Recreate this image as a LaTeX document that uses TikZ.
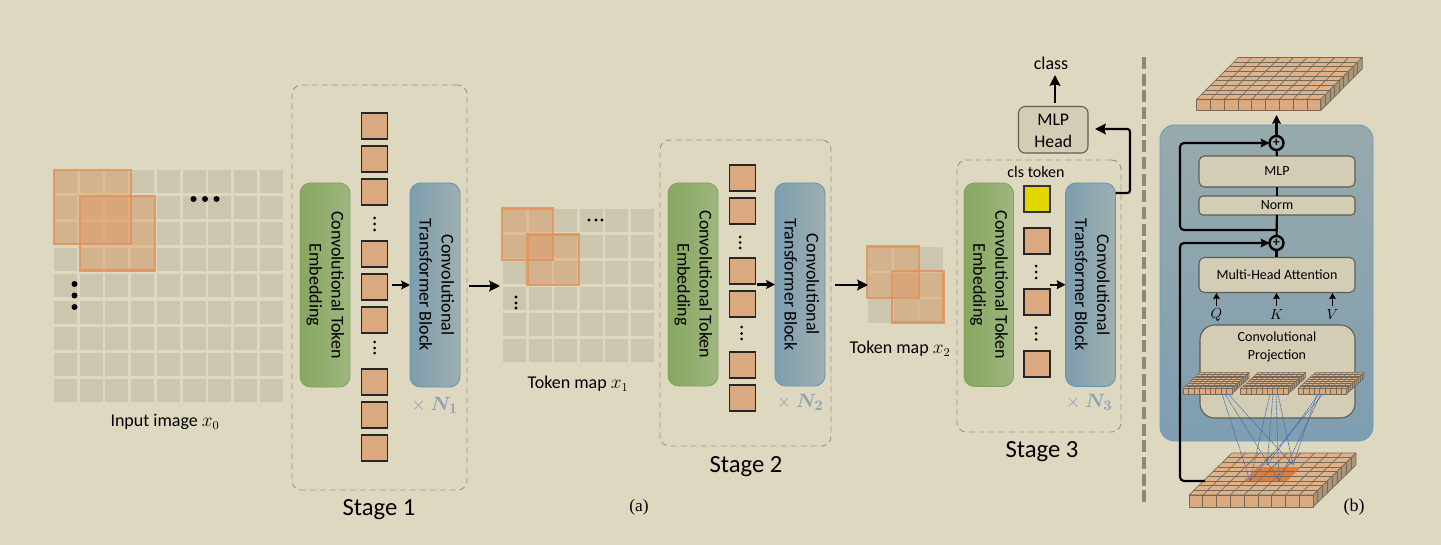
\documentclass[tikz,border=0pt]{standalone}
\usepackage{fontspec}
\setmainfont{Carlito}
\newfontfamily\capfont{Liberation Serif}
\usetikzlibrary{arrows.meta}
\definecolor{bgc}{HTML}{DFD8C0}
\definecolor{cellc}{HTML}{CCC6AE}
\definecolor{tokc}{HTML}{DBA980}
\definecolor{patchc}{HTML}{E0935A}
\definecolor{boxc}{HTML}{D4CDB6}
\definecolor{edgec}{HTML}{5E5C52}
\definecolor{dashc}{HTML}{9A978A}
\definecolor{repc}{HTML}{8AA2B6}
\definecolor{linkc}{HTML}{3F6CB0}
\definecolor{greenedge}{HTML}{7FA55C}
\definecolor{greenl}{HTML}{87A75F}
\definecolor{greenr}{HTML}{9EB680}
\definecolor{blueedge}{HTML}{6496B4}
\definecolor{bluel}{HTML}{7D9DAF}
\definecolor{bluer}{HTML}{9EB0B0}
\definecolor{yellowc}{HTML}{E1D700}
\definecolor{cubeedge}{HTML}{75695A}
\definecolor{cubetop}{HTML}{DEB28A}
\definecolor{cubeside}{HTML}{A8967A}
\definecolor{hotc}{HTML}{DE7D3C}
\definecolor{dividerc}{HTML}{8C8A7D}
\definecolor{paneledge}{HTML}{6E9BB9}
\definecolor{panelt}{HTML}{98AAAC}
\definecolor{panelb}{HTML}{7E9EB1}
\tikzset{
  x=0.75pt,y=-0.75pt,
  every node/.style={inner sep=0pt,outer sep=0pt},
  stagebox/.style={draw=dashc,dash pattern=on 4.5pt off 3pt,line width=0.7pt,rounded corners=7pt},
  greenblock/.style={draw=greenedge,rounded corners=8pt,line width=0.7pt,left color=greenl,right color=greenr},
  blueblock/.style={draw=blueedge,rounded corners=8pt,line width=0.7pt,left color=bluel,right color=bluer},
  token/.style={draw=black!85,line width=0.9pt,fill=tokc},
  clstoken/.style={draw=black!80,line width=0.9pt,fill=yellowc},
  lightbox/.style={draw=edgec,line width=0.8pt,fill=boxc,rounded corners=#1},
  lightbox/.default=4pt,
  patch/.style={draw=patchc,draw opacity=0.85,line width=1.6pt,fill=patchc,fill opacity=0.38},
  flow/.style={line width=1.6pt,-{Stealth[length=8pt,width=8pt,inset=1pt]}},
  smallflow/.style={line width=1.6pt,-{Stealth[length=6.5pt,width=6.5pt,inset=0.8pt]}},
  link/.style={draw=linkc,line width=0.5pt,dash pattern=on 1.2pt off 0.6pt},
  plain/.style={line width=1.6pt},
  sumnode/.style={circle,draw=black,line width=1.8pt,minimum size=10.5pt,font=\fontsize{10}{10}\selectfont\bfseries},
  rep/.style={text=repc,font=\fontsize{15}{15}\selectfont},
  stagelabel/.style={font=\fontsize{18.5}{18.5}\selectfont},
  maplabel/.style={font=\fontsize{13.5}{15}\selectfont},
  innerlabel/.style={font=\fontsize{10.5}{12.5}\selectfont},
}
% rectangular node given by its corners
\newcommand{\blk}[7]{%
  \pgfmathsetmacro\bw{(#5-#3)*0.75}\pgfmathsetmacro\bh{(#6-#4)*0.75}%
  \node[#1,minimum width=\bw pt,minimum height=\bh pt] (#2) at ({(#3+#5)/2},{(#4+#6)/2}) {#7};}
% turned two-line block caption
\newcommand{\turned}[2]{\rotatebox{-90}{\fontsize{13.5}{16.5}\selectfont\begin{tabular}{@{}c@{}}#1\\#2\end{tabular}}}
% square token whose top edge is at the given y
\newcommand{\tok}[4][token]{\blk{#1}{#2}{#3}{#4}{#3+26}{#4+26}{}}
% three dots, stacked or in a row, of a given radius
\newcommand{\tridots}[7][1.7]{\foreach \p in {(#2,#3),(#4,#5),(#6,#7)}{\fill[black] \p circle[radius=#1];}}
% flat grid of pale cells: left, top, columns, rows, x pitch, y pitch, cell size
\newcommand{\cellgrid}[7]{%
  \foreach \i in {1,...,#3}{\foreach \j in {1,...,#4}{%
    \fill[cellc] ({#1+(\i-1)*#5},{#2+(\j-1)*#6}) rectangle ++(#7,#7);}}}
% block of small cubes seen from above: front-left, front-right, top y, bottom y, skew, back y, stroke
\newcommand{\cubes}[7]{%
  \pgfmathsetmacro\cw{(#2-#1)/9}\pgfmathsetmacro\depth{(#3-#6)/9}\pgfmathsetmacro\skew{#5/9}\pgfmathsetmacro\thick{#4-#3}%
  \begin{scope}[draw=cubeedge,line width=#7,line join=round]
    \filldraw[fill=cubetop] (#1,#3) -- (#2,#3) -- ({#2+#5},#6) -- ({#1+#5},#6) -- cycle;
    \filldraw[fill=cubeside] (#2,#3) -- ({#2+#5},#6) -- ({#2+#5},{#6+\thick}) -- (#2,#4) -- cycle;
    \filldraw[fill=tokc] (#1,#3) rectangle (#2,#4);
    \foreach \k in {1,...,8}{
      \draw ({#1+\k*\cw},#3) -- ({#1+\k*\cw+#5},#6);
      \draw ({#1+\k*\cw},#3) -- ({#1+\k*\cw},#4);
      \draw ({#1+\k*\skew},{#3-\k*\depth}) -- ({#2+\k*\skew},{#3-\k*\depth});
      \draw ({#2+\k*\skew},{#3-\k*\depth}) -- ({#2+\k*\skew},{#4-\k*\depth});
    }
  \end{scope}}
\begin{document}
\begin{tikzpicture}
\useasboundingbox (0,0) rectangle (1441,545);
\fill[bgc] (0,0) rectangle (1441,545);

% ---- input image and token maps ----
\cellgrid{54}{170}{9}{9}{25.7}{26.1}{23}
\filldraw[patch] (54,170) rectangle (131,244);
\filldraw[patch] (80,196) rectangle (155,270.5);
\tridots[3]{193.5}{199}{205}{199}{216.5}{199}
\tridots[3]{74.5}{284}{74.5}{295.5}{74.5}{307}
\node[maplabel] (inlabel) at (165,421.5) {Input image $x_0$};

\cellgrid{503}{209}{6}{6}{25.6}{26}{23}
\filldraw[patch] (502,208.5) rectangle (553,260);
\filldraw[patch] (527.5,234.5) rectangle (579,285);
\tridots{589}{220}{596}{220}{602}{220}
\tridots{516}{297}{516}{303}{516}{308}
\node[maplabel] (mapone) at (578,383.5) {Token map $x_1$};

\cellgrid{868}{247}{3}{3}{25.6}{26}{24}
\filldraw[patch] (867,246.5) rectangle (919,298);
\filldraw[patch] (892,271) rectangle (943.5,322.5);
\node[maplabel] (maptwo) at (900,348.5) {Token map $x_2$};

% ---- stage 1 ----
\blk{stagebox}{stone}{292}{85}{467}{490}{}
\blk{greenblock}{cteone}{300}{183}{350}{387}{\turned{Convolutional Token}{Embedding}}
\blk{blueblock}{ctbone}{410}{183}{460}{387}{\turned{Convolutional}{Transformer Block}}
\foreach \n/\y in {a/113,b/146,c/179,d/241,e/274,f/307,g/369,h/402,i/435}{\tok{sa\n}{361.5}{\y}}
\tridots[1.5]{374.5}{218}{374.5}{224}{374.5}{230}
\tridots[1.5]{374.5}{342}{374.5}{348}{374.5}{353}
\node[rep] (repone) at (434.5,405) {$\times$ {\boldmath$N_1$}};
\node[stagelabel] (lblone) at (379,510) {Stage 1};
\draw[smallflow,shorten <=3pt] (sae.east |- ctbone.west) -- (ctbone.west);

% ---- stage 2 ----
\blk{stagebox}{sttwo}{660}{140}{831}{446}{}
\blk{greenblock}{ctetwo}{668}{183}{718}{386}{\turned{Convolutional Token}{Embedding}}
\blk{blueblock}{ctbtwo}{775}{183}{825}{386}{\turned{Convolutional}{Transformer Block}}
\foreach \n/\y in {a/165,b/198,c/258,d/291,e/352,f/385}{\tok{sb\n}{729.5}{\y}}
\tridots[1.5]{740}{237}{740}{242.5}{740}{248}
\tridots[1.5]{741.7}{327}{741.7}{333.5}{741.7}{339}
\node[rep] (reptwo) at (800,402) {$\times$ {\boldmath$N_2$}};
\node[stagelabel] (lbltwo) at (746,467) {Stage 2};
\draw[smallflow,shorten <=1pt] (sbc.east |- ctbtwo.west) -- (ctbtwo.west);

% ---- stage 3 ----
\blk{stagebox}{stthree}{957}{160}{1121}{432}{}
\node[font=\fontsize{12}{12}\selectfont] (clslabel) at (1036,172) {cls token};
\blk{greenblock}{ctethree}{964}{183}{1013.5}{386.5}{\turned{Convolutional Token}{Embedding}}
\blk{blueblock}{ctbthree}{1065.5}{183}{1115.5}{386.5}{\turned{Convolutional}{Transformer Block}}
\tok[clstoken]{sca}{1024}{186}
\foreach \n/\y in {b/228,c/289,d/351}{\tok{sc\n}{1024}{\y}}
\tridots[1.5]{1036}{266}{1036}{272}{1036}{278}
\tridots[1.5]{1036}{327.7}{1036}{333.5}{1036}{339.5}
\node[rep] (repthree) at (1089,402) {$\times$ {\boldmath$N_3$}};
\node[stagelabel] (lblthree) at (1042,452) {Stage 3};
\draw[smallflow] (scb.east |- ctbthree.west) -- (ctbthree.west);

% ---- classification head ----
\blk{lightbox=5pt}{head}{1018.5}{106.5}{1088}{153}{\raisebox{-1.5pt}[\height][\depth]{\fontsize{13.3}{16.5}\selectfont\begin{tabular}{@{}c@{}}MLP\\Head\end{tabular}}}
\node[font=\fontsize{13.5}{13.5}\selectfont] (cls) at (1051,63) {class};
\coordinate (clsin) at (1055,75);
\coordinate (headout) at (1055,103);
\draw[flow] (headout) -- (clsin);
\coordinate (tbout) at (1115.5,193);
\coordinate (headin) at (1095,129);
\draw[flow,rounded corners=2pt] (tbout) -- (1130,193) -- (1130,129) -- (headin);

% ---- arrows between stages ----
\coordinate (oa) at (469,286);
\coordinate (ob) at (500,286);
\coordinate (oc) at (835,285);
\coordinate (od) at (868,285);
\draw[flow] (oa) -- (ob);
\draw[flow] (oc) -- (od);

% ---- divider ----
\coordinate (da) at (1144,57);
\coordinate (db) at (1144,505);
\draw[draw=dividerc,line width=2.3pt,dash pattern=on 9pt off 3.5pt] (da) -- (db);

% ---- transformer block detail ----
\cubes{1196.7}{1320.7}{99.3}{110.7}{41.5}{57.5}{0.5pt}
\blk{draw=paneledge,line width=0.7pt,rounded corners=11pt,top color=panelt,bottom color=panelb}{panel}{1160}{125}{1373}{441}{}
\cubes{1189}{1313}{495}{507}{43}{453}{0.5pt}
% three-by-three highlighted patch on the lower block
\fill[hotc] (1244.7,481) -- (1286,481) -- (1300,467) -- (1259,467) -- cycle;
\draw[cubeedge,line width=0.35pt] (1249.5,476.3) -- (1290.7,476.3);
\draw[cubeedge,line width=0.35pt] (1254.2,471.7) -- (1295.4,471.7);
\draw[cubeedge,line width=0.35pt] (1258.5,481) -- (1272.8,467);
\draw[cubeedge,line width=0.35pt] (1272.3,481) -- (1286.6,467);

\blk{lightbox}{mlp}{1199}{156}{1355}{187}{\fontsize{10.5}{12}\selectfont MLP}
\blk{lightbox=3pt}{norm}{1199}{196}{1355}{215}{\fontsize{10.5}{12}\selectfont Norm}
\blk{lightbox}{mha}{1199}{257.5}{1355}{292.5}{\fontsize{10.5}{12}\selectfont Multi-Head Attention}
\blk{lightbox=11pt}{proj}{1200}{325}{1355}{418}{}
\node[innerlabel,align=center] (projlabel) at (1277,346.5) {Convolutional\\[1pt]Projection};
\cubes{1183}{1232}{388.3}{394}{17}{372.3}{0.35pt}
\cubes{1240.7}{1288}{388.3}{394}{17.5}{372.3}{0.35pt}
\cubes{1298}{1346.7}{388.3}{394}{17.5}{372.3}{0.35pt}

% dotted rays from each small map down to the highlighted patch
\foreach \ax/\bx/\by in {1222/1250/481,1225/1279/481,1228/1293/465,
                         1270/1250/481,1273/1267/465,1276/1279/481,1278/1293/465,
                         1323/1250/481,1321/1279/481,1319/1267/465,1317/1293/465}{
  \coordinate (lt) at (\ax,394); \coordinate (lb) at (\bx,\by);
  \draw[link] (lt) -- (lb);
}

\node[sumnode] (plusa) at (1276.5,143) {+};
\node[sumnode] (plusb) at (1276.5,243) {+};
\coordinate (topout) at (1276.5,115);
\coordinate (branch) at (1276.5,230);
\coordinate (tap) at (1205,481);
\draw[smallflow] (plusa) -- (topout);
\draw[plain] (mlp) -- (plusa);
\draw[plain] (norm) -- (mlp);
\draw[plain] (plusb) -- (norm);
\draw[plain] (mha.north -| plusb) -- (plusb);
\draw[smallflow,rounded corners=3pt] (branch) -- (1180,230) -- (1180,143) -- (plusa.west);
\draw[smallflow,rounded corners=3pt] (tap) -- (1180,481) -- (1180,243) -- (plusb.west);

\foreach \nm/\tx/\lbl in {q/1216.5/Q,k/1276.5/K,v/1332.5/V}{
  \node[font=\fontsize{11}{11}\selectfont] (\nm) at (\tx,315) {$\lbl$};
  \coordinate (\nm up) at (\tx,306);
  \draw[line width=1.3pt,-{Stealth[length=4.5pt,width=5pt,inset=0.6pt]}] (\nm up) -- (\tx,293);
}

% ---- sub-figure captions ----
\node[font=\capfont\fontsize{13}{13}\selectfont] (capa) at (639,507) {(a)};
\node[font=\capfont\fontsize{13.5}{13.5}\selectfont] (capb) at (1354,507) {(b)};
\end{tikzpicture}
\end{document}
